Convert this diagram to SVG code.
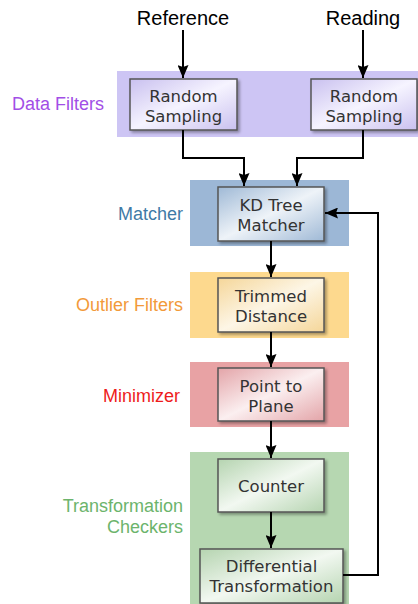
<svg xmlns="http://www.w3.org/2000/svg" width="418" height="604" viewBox="0 0 418 604">
<defs>
<style>
.hd{font-family:"Liberation Sans",Arial,sans-serif;font-size:20px;fill:#000;text-anchor:middle}
.lbl{font-family:"Liberation Sans",Arial,sans-serif;font-size:18px;text-anchor:end}
.bt{font-family:"DejaVu Sans",Verdana,sans-serif;font-size:16.5px;fill:#333;text-anchor:middle}
.box{stroke:#555;stroke-width:1.5}
.ln{fill:none;stroke:#000;stroke-width:2}
</style>
<marker id="ah" viewBox="0 0 13 11" refX="13" refY="5.5" markerWidth="13" markerHeight="11" markerUnits="userSpaceOnUse" orient="auto">
<path d="M0,0 L13,5.5 L0,11 L2,5.5 Z" fill="#000"/>
</marker>
<filter id="sh" x="-10%" y="-10%" width="130%" height="130%">
<feGaussianBlur in="SourceAlpha" stdDeviation="1.5"/>
<feOffset dx="2" dy="2" result="b"/>
<feComponentTransfer><feFuncA type="linear" slope="0.35"/></feComponentTransfer>
<feMerge><feMergeNode/><feMergeNode in="SourceGraphic"/></feMerge>
</filter>
<linearGradient id="gP" x1="0" y1="0" x2="1" y2="1"><stop offset="0" stop-color="#c9c0ef"/><stop offset="0.5" stop-color="#f6f4ff"/><stop offset="1" stop-color="#c9c0ef"/></linearGradient>
<linearGradient id="gB" x1="0" y1="0" x2="1" y2="1"><stop offset="0" stop-color="#9fb9d6"/><stop offset="0.5" stop-color="#eef3f8"/><stop offset="1" stop-color="#9fb9d6"/></linearGradient>
<linearGradient id="gY" x1="0" y1="0" x2="1" y2="1"><stop offset="0" stop-color="#f5d699"/><stop offset="0.5" stop-color="#fdf6e6"/><stop offset="1" stop-color="#f5d699"/></linearGradient>
<linearGradient id="gR" x1="0" y1="0" x2="1" y2="1"><stop offset="0" stop-color="#e3a4a8"/><stop offset="0.5" stop-color="#fbeff0"/><stop offset="1" stop-color="#e3a4a8"/></linearGradient>
<linearGradient id="gG" x1="0" y1="0" x2="1" y2="1"><stop offset="0" stop-color="#b5d4b0"/><stop offset="0.5" stop-color="#f2f8f1"/><stop offset="1" stop-color="#b5d4b0"/></linearGradient>
</defs>
<rect width="418" height="604" fill="#fff"/>

<g id="band-data-filters">
<rect x="117" y="71" width="301" height="66" fill="#cdc5f4"/>
<text class="lbl" x="104" y="110" fill="#a24ee6">Data Filters</text>
</g>
<g id="band-matcher">
<rect x="190" y="180" width="159" height="66" fill="#9cb7d6"/>
<text class="lbl" x="183" y="220" fill="#3f7aa6">Matcher</text>
</g>
<g id="band-outlier">
<rect x="190" y="272" width="159" height="66" fill="#fdd98e"/>
<text class="lbl" x="183" y="311" fill="#f29a3a">Outlier Filters</text>
</g>
<g id="band-minimizer">
<rect x="190" y="362" width="159" height="65" fill="#e8a2a4"/>
<text class="lbl" x="180" y="402" fill="#ee1c1c">Minimizer</text>
</g>
<g id="band-checkers">
<rect x="190" y="452" width="159" height="152" fill="#b6d7b1"/>
<text class="lbl" x="183" y="512" fill="#6cb46c">Transformation</text>
<text class="lbl" x="183" y="533" fill="#6cb46c">Checkers</text>
</g>

<g id="reference"><text class="hd" x="183" y="25">Reference</text></g>
<g id="reading"><text class="hd" x="363" y="25">Reading</text></g>

<g id="random-sampling-1">
<rect class="box" x="130" y="79" width="107" height="51" fill="url(#gP)" filter="url(#sh)"/>
<text class="bt" x="183.5" y="101.5">Random</text>
<text class="bt" x="183.5" y="121.5">Sampling</text>
</g>
<g id="random-sampling-2">
<rect class="box" x="311" y="79" width="106" height="51" fill="url(#gP)" filter="url(#sh)"/>
<text class="bt" x="364" y="101.5">Random</text>
<text class="bt" x="364" y="121.5">Sampling</text>
</g>
<g id="kd-tree-matcher">
<rect class="box" x="218" y="187" width="106" height="54" fill="url(#gB)" filter="url(#sh)"/>
<text class="bt" x="271" y="211">KD Tree</text>
<text class="bt" x="271" y="231">Matcher</text>
</g>
<g id="trimmed-distance">
<rect class="box" x="218" y="278" width="106" height="54" fill="url(#gY)" filter="url(#sh)"/>
<text class="bt" x="271" y="302">Trimmed</text>
<text class="bt" x="271" y="322">Distance</text>
</g>
<g id="point-to-plane">
<rect class="box" x="218" y="368" width="106" height="53" fill="url(#gR)" filter="url(#sh)"/>
<text class="bt" x="271" y="392">Point to</text>
<text class="bt" x="271" y="412">Plane</text>
</g>
<g id="counter">
<rect class="box" x="218" y="459" width="106" height="53" fill="url(#gG)" filter="url(#sh)"/>
<text class="bt" x="271" y="492">Counter</text>
</g>
<g id="differential-transformation">
<rect class="box" x="200" y="549" width="143" height="54" fill="url(#gG)" filter="url(#sh)"/>
<text class="bt" x="271.5" y="572">Differential</text>
<text class="bt" x="271.5" y="592">Transformation</text>
</g>

<g id="connectors">
<path class="ln" d="M183,30 V78" marker-end="url(#ah)"/>
<path class="ln" d="M363,30 V78" marker-end="url(#ah)"/>
<path class="ln" d="M183,130 V158 H244 V186" marker-end="url(#ah)"/>
<path class="ln" d="M363,130 V158 H297 V186" marker-end="url(#ah)"/>
<path class="ln" d="M271,241 V277" marker-end="url(#ah)"/>
<path class="ln" d="M271,332 V367" marker-end="url(#ah)"/>
<path class="ln" d="M271,421 V458" marker-end="url(#ah)"/>
<path class="ln" d="M271,512 V548" marker-end="url(#ah)"/>
<path class="ln" d="M343,575 H378 V213 H325" marker-end="url(#ah)"/>
</g>
</svg>
